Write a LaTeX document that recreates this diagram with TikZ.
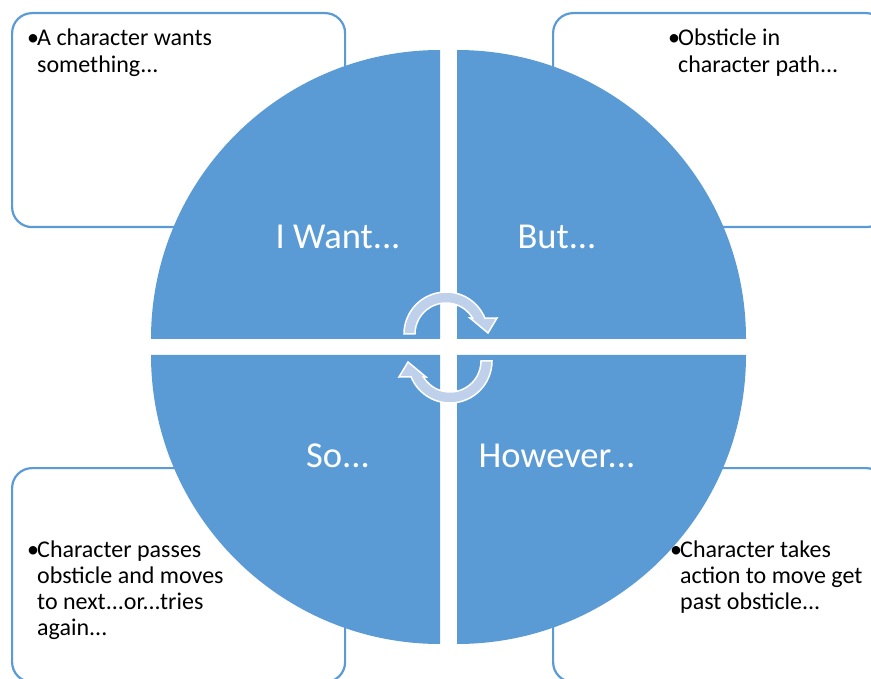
\documentclass[tikz,border=0pt]{standalone}
\usepackage{fontspec}
\setmainfont{Carlito}
\definecolor{quadblue}{HTML}{5B9BD5}
\definecolor{arrowfill}{HTML}{BED0EA}
\newcommand{\bul}{\makebox[10pt][l]{\textbullet}}
\newcommand{\ind}{\hspace*{10pt}}
% stack of lines whose baseline is the first line's baseline
\newcommand{\panellines}[1]{\vtop{\fontsize{24}{26.3}\selectfont #1}}
\tikzset{
  infobox/.style={draw=quadblue, line width=2.2pt, fill=white, rounded corners=20pt,
    rectangle, anchor=north west, minimum width=333pt, minimum height=214pt, inner sep=0pt},
  boxtext/.style={anchor=base west, inner sep=0pt, text=black},
  quadrant/.style={fill=quadblue},
  quadlabel/.style={anchor=base, inner sep=0pt, text=white,
    font=\fontsize{36.5}{44}\selectfont},
  cyclearrow/.pic={
    \filldraw[fill=arrowfill, draw=white, line width=1.5pt, line join=miter]
      (180:42) arc[start angle=180, end angle=338, radius=42]
      -- (51,-16) -- (42,-1) -- (24,-16)
      -- (329:31) arc[start angle=329, end angle=180, radius=31] -- cycle;
  }
}
\begin{document}
\begin{tikzpicture}[x=1pt, y=-1pt]
\useasboundingbox (0,0) rectangle (871,679);
\clip (0,0) rectangle (871,679);

% rounded text panels in the four corners
\node[infobox] (boxTL) at (11,12) {};
\node[infobox] (boxTR) at (552,12) {};
\node[infobox] (boxBL) at (11,467) {};
\node[infobox] (boxBR) at (552,467) {};

% four quarter discs
\fill[quadrant] (440,339) -- (151,339) arc[start angle=180, end angle=270, radius=289] -- cycle;
\fill[quadrant] (457,339) -- (457,50) arc[start angle=270, end angle=360, radius=289] -- cycle;
\fill[quadrant] (457,355) -- (746,355) arc[start angle=0, end angle=90, radius=289] -- cycle;
\fill[quadrant] (440,355) -- (440,644) arc[start angle=90, end angle=180, radius=289] -- cycle;

% quadrant labels
\node[quadlabel] (want) at (338,249) {I Want...};
\node[quadlabel] (but) at (557,249) {But...};
\node[quadlabel] (so) at (338,467) {So...};
\node[quadlabel] (however) at (557,467) {However...};

% circular arrows in the middle
\pic at (446,334) {cyclearrow};
\pic[rotate=180] at (450,361) {cyclearrow};

% panel texts
\node[boxtext] (txtTL) at (27,46) {\panellines{\hbox{\bul A character wants}\hbox{\ind something...}}};
\node[boxtext] (txtTR) at (668,46) {\panellines{\hbox{\bul Obsticle in}\hbox{\ind character path...}}};
\node[boxtext] (txtBL) at (27,557) {\panellines{\hbox{\bul Character passes}\hbox{\ind obsticle and moves}\hbox{\ind to next...or...tries}\hbox{\ind again...}}};
\node[boxtext] (txtBR) at (670,557) {\panellines{\hbox{\bul Character takes}\hbox{\ind action to move get}\hbox{\ind past obsticle...}}};
\end{tikzpicture}
\end{document}
